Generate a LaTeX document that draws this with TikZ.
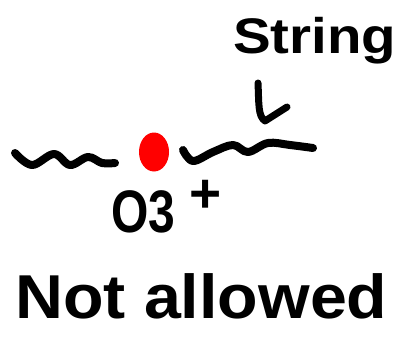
\documentclass[tikz,border=0pt]{standalone}
\usepackage{fontspec}
\setmainfont{Liberation Sans}
\usetikzlibrary{shapes.geometric}
\begin{document}
\begin{tikzpicture}[x=1pt,y=-1pt,
  ink/.style={draw=black,line width=8pt,line cap=round,line join=round},
  label/.style={inner sep=0pt,font=\bfseries,transform shape}]
\useasboundingbox (0,0) rectangle (406,351);
% the string label and its pointer
\node[label,anchor=base west,xscale=1.13,font=\bfseries\fontsize{50}{50}\selectfont] (str) at (233,53) {String};
\coordinate (tip) at (265,121);
\draw[ink,line width=7pt] (258,83) .. controls (259,105) and (258,116) .. (tip) -- (287,107);
% left string segment
\draw[ink] plot[smooth,tension=0.6] coordinates {(15,153) (32,165) (54,154) (70,165) (88,157) (102,163) (115,163)};
% right string segment
\draw[ink] plot[smooth,tension=0.6] coordinates {(183,150) (193,161) (213,152) (233,145) (248,152) (268,143) (290,145) (313,148)};
% the point between them
\node[ellipse,fill=red,minimum width=30pt,minimum height=39pt,inner sep=0pt] (pt) at (154,152) {};
% its label, charge raised beside it
\node[label,anchor=base west,font=\bfseries\fontsize{60}{60}\selectfont,xscale=0.8] (o3) at (111,232) {O3};
\node[label,font=\bfseries\fontsize{55}{55}\selectfont] (plus) at (206,196) {+};
% verdict
\node[label,anchor=base west,xscale=1.07,font=\bfseries\fontsize{62}{62}\selectfont] (verdict) at (15,318) {Not allowed};
\end{tikzpicture}
\end{document}
